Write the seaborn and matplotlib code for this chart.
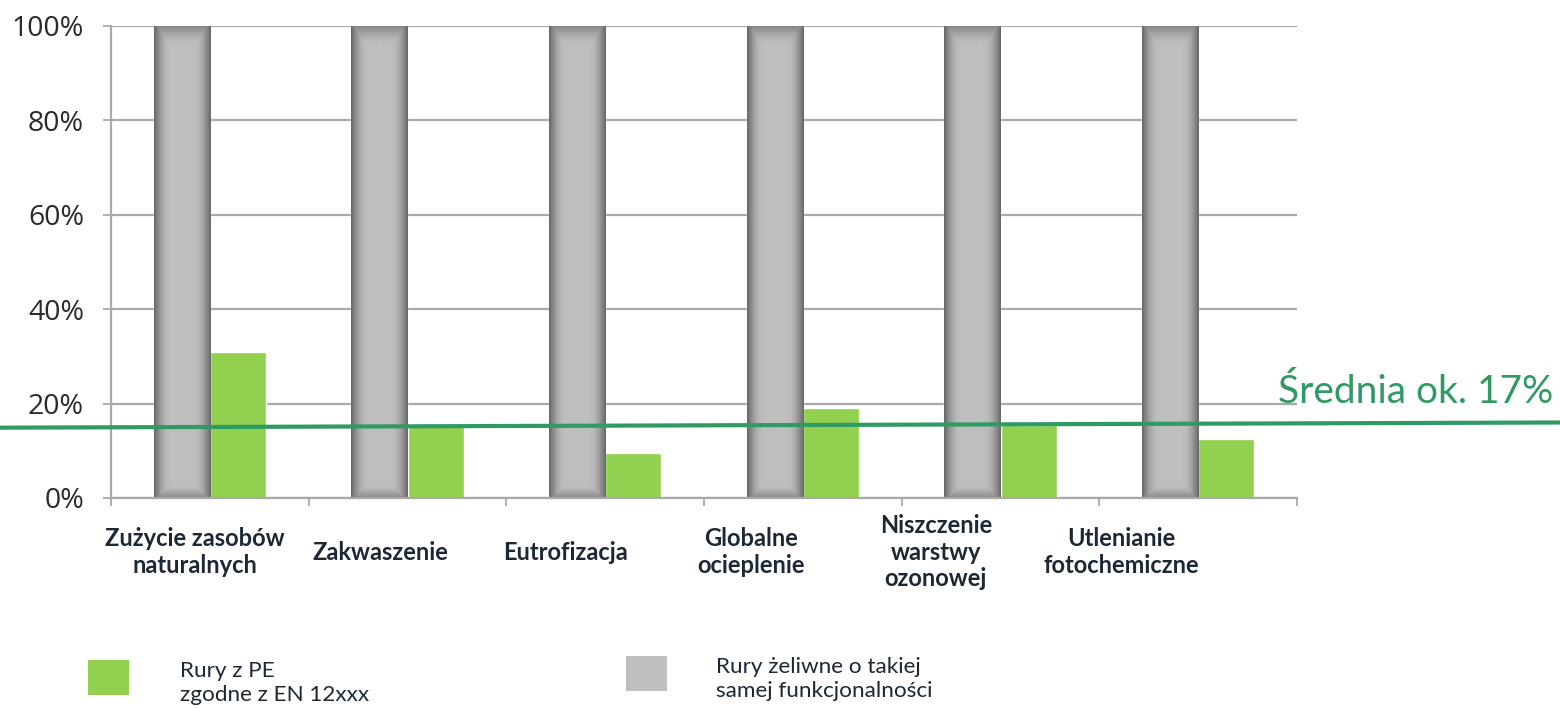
import numpy as np
import pandas as pd
import matplotlib
matplotlib.use("Agg")
import matplotlib.pyplot as plt
import matplotlib.transforms as mtransforms
from matplotlib.patches import Rectangle
from matplotlib.colors import to_rgba
import seaborn as sns

# --- data -------------------------------------------------------------------
categories = [
    "Zużycie zasobów\nnaturalnych",
    "Zakwaszenie",
    "Eutrofizacja",
    "Globalne\nocieplenie",
    "Niszczenie\nwarstwy\nozonowej",
    "Utlenianie\nfotochemiczne",
]
series_names = [
    "Rury żeliwne o takiej\nsamej funkcjonalności",
    "Rury z PE\nzgodne z EN 12xxx",
]
cast_iron_values = [100, 100, 100, 100, 100, 100]
pe_values = [31, 15.5, 9.5, 19, 15.5, 12.5]
# hand-drawn average marker (value at the left and right edge of the figure)
average_line = [14.9, 16.0]
y_ticks = [0, 20, 40, 60, 80, 100]
y_tick_labels = ["0%", "20%", "40%", "60%", "80%", "100%"]

# --- styling ------------------------------------------------------------------
GRAY = "#bfbfbf"
GREEN = "#92d050"
LINE_GREEN = "#2f9a64"
TEXT_DARK = "#1c2833"
GRID = "#a9a9a9"

sns.set_theme(style="white")
plt.rcParams["font.family"] = ["Lato", "DejaVu Sans"]

df = pd.DataFrame({
    "category": categories * 2,
    "series": [series_names[0]] * len(categories) + [series_names[1]] * len(categories),
    "value": cast_iron_values + pe_values,
})

fig = plt.figure(figsize=(15.6, 7.08), dpi=100)
ax = fig.add_axes([111 / 1560, 1 - 498 / 708, (1297 - 111) / 1560, (498 - 26) / 708])

sns.barplot(
    data=df, x="category", y="value", hue="series",
    order=categories, hue_order=series_names,
    palette=[GRAY, GREEN], width=0.567, gap=0, legend=False,
    saturation=1, ax=ax,
)


def cylinder_shade(nrows, ncols):
    """Gray levels for a shaded, cylinder-like column."""
    u = (np.arange(ncols) + 0.5) / ncols
    dist = np.minimum(u, 1 - u)
    horiz = np.clip(1 - dist / 0.28, 0, 1) ** 1.8
    t = np.arange(nrows)
    vert = np.maximum(np.clip(1 - t / 18, 0, 1), np.clip(1 - (nrows - 1 - t) / 12, 0, 1)) ** 1.5
    dark = np.maximum(horiz[None, :], 0.6 * vert[:, None])
    level = (190 - 90 * dark) / 255.0
    img = np.dstack([level, level, level, np.ones_like(level)])
    return img


gray_rgba = to_rgba(GRAY)
for patch in list(ax.patches):
    if np.allclose(patch.get_facecolor(), gray_rgba, atol=0.01):
        x0, y0 = patch.get_x(), patch.get_y()
        w, h = patch.get_width(), patch.get_height()
        nrows = max(int(round(472 * h / 100)), 4)
        ax.imshow(cylinder_shade(nrows, 56), extent=[x0, x0 + w, y0, y0 + h],
                  origin="upper", aspect="auto", interpolation="bilinear", zorder=1.5)

ax.set_xlim(-0.5, len(categories) - 0.5)
ax.set_ylim(0, 100)
ax.set_xlabel("")
ax.set_ylabel("")

# axes, grid and ticks
ax.set_axisbelow(True)
ax.set_yticks(y_ticks)
ax.set_yticklabels(y_tick_labels, fontfamily="Open Sans", fontsize=20.5, color="#2a2a2a")
ax.yaxis.grid(True, color=GRID, linewidth=1.6)
ax.xaxis.grid(False)
ax.tick_params(axis="y", which="major", left=True, length=5.5, width=1.3, color=GRID, pad=14)
ax.set_xticks([])
ax.set_xticks(np.arange(-0.5, len(categories), 1.0), minor=True)
ax.tick_params(axis="x", which="minor", bottom=True, length=6, width=1.3, color=GRID)
for side in ["top", "right"]:
    ax.spines[side].set_visible(False)
for side in ["left", "bottom"]:
    ax.spines[side].set_color(GRID)
    ax.spines[side].set_linewidth(1.6)

# category labels under the axis
label_tf = mtransforms.blended_transform_factory(ax.transData, fig.transFigure)
for i, cat in enumerate(categories):
    ax.text(i * 0.937 - 0.075, 1 - 552 / 708, cat, transform=label_tf,
            ha="center", va="center", multialignment="center",
            fontsize=17, fontweight="bold", color=TEXT_DARK, linespacing=1.2)

# average marker across the whole figure width
avg_tf = mtransforms.blended_transform_factory(fig.transFigure, ax.transData)
ax.plot([0, 1], average_line, transform=avg_tf, color=LINE_GREEN,
        linewidth=3.0, clip_on=False, zorder=4, solid_capstyle="butt")
mean_pe = int(np.mean(pe_values))
fig.text(1553 / 1560, 1 - 403 / 708, f"Średnia ok. {mean_pe}%", ha="right", va="baseline",
         fontsize=28, fontweight="normal", color=LINE_GREEN)

# legend
legend_items = [
    (GREEN, series_names[1], (88, 660), 180, 683),
    (GRAY, series_names[0], (626, 656), 716, 679),
]
for color, text, (sx, sy), tx, ty in legend_items:
    fig.add_artist(Rectangle((sx / 1560, 1 - (sy + 35) / 708), 41 / 1560, 35 / 708,
                             transform=fig.transFigure, facecolor=color, edgecolor="none"))
    fig.text(tx / 1560, 1 - ty / 708, text, ha="left", va="center",
             fontsize=16.2, color=TEXT_DARK, linespacing=1.25)

fig.savefig("out.png", dpi=100, facecolor="white")
